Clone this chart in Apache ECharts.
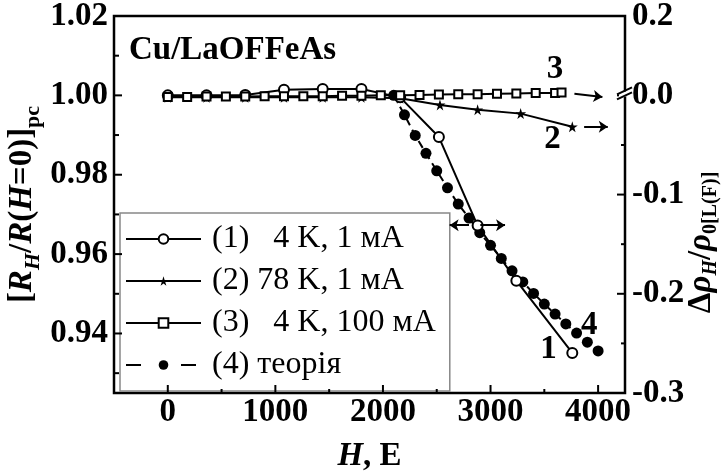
<!DOCTYPE html>
<html><head><meta charset="utf-8">
<script src="https://cdn.jsdelivr.net/npm/echarts@6/dist/echarts.min.js"></script>
<style>html,body{margin:0;padding:0;background:#fff}#c{width:725px;height:474px}</style>
</head><body><div id="c"></div>
<script>
// ---- data ----
const seriesNames = ['(1)   4 K, 1 мА', '(2) 78 K, 1 мА', '(3)   4 K, 100 мА', '(4) теорія'];
const h1 = [0, 360, 720, 1080, 1440, 1800, 2160, 2520, 2880, 3240, 3760];
const r1 = [1.0000, 1.0000, 1.0001, 1.0014, 1.0016, 1.0016, 0.9995, 0.9895, 0.9672, 0.9533, 0.9351];
const h2 = [0, 360, 720, 1080, 1440, 1800, 2160, 2530, 2880, 3280, 3760];
const r2 = [0.9995, 0.9995, 0.9995, 0.9995, 0.9995, 0.9995, 0.9993, 0.9976, 0.9964, 0.9954, 0.9921];
const h3 = [0, 180, 360, 540, 720, 900, 1080, 1260, 1440, 1620, 1800, 1980, 2160, 2340, 2520, 2700, 2880, 3060, 3240, 3420, 3600, 3660];
const r3 = [0.9996, 0.9996, 0.9997, 0.9997, 0.9997, 0.9998, 0.9998, 0.9998, 0.9998, 0.9999, 0.9999, 1.0000, 1.0000, 1.0001, 1.0002, 1.0003, 1.0003, 1.0004, 1.0005, 1.0006, 1.0006, 1.0007];
const h4 = [2100, 2200, 2300, 2400, 2500, 2600, 2700, 2800, 2900, 3000, 3100, 3200, 3300, 3400, 3500, 3600, 3700, 3800, 3900, 4000];
const r4 = [1.0000, 0.9951, 0.9899, 0.9854, 0.9810, 0.9767, 0.9726, 0.9691, 0.9654, 0.9622, 0.9589, 0.9558, 0.9530, 0.9501, 0.9474, 0.9449, 0.9424, 0.9401, 0.9378, 0.9356];

const xRange = [-500, 4250];
const xTickLabels = [0, 1000, 2000, 3000, 4000];
const xMinorTicks = [500, 1500, 2500, 3500];
const leftRange = [0.925, 1.02];
const leftTickLabels = [0.94, 0.96, 0.98, 1.00, 1.02];
const leftMinorTicks = [0.93, 0.95, 0.97, 0.99, 1.01];
const rightMin = -0.3;
const rightTickLabels = [-0.3, -0.2, -0.1, 0.0];
const rightBreakLabel = '0.2';
const rightMinorTicks = [-0.25, -0.15, -0.05];
// curve labels and arrows (data coordinates)
const curveLabels = [
  {s: 0, text: '1', at: [3540, 0.9359]},
  {s: 1, text: '2', at: [3575, 0.9889]},
  {s: 2, text: '3', at: [3600, 1.0066]},
  {s: 3, text: '4', at: [3918, 0.9419]}
];
const arrows = [
  {s: 2, from: [3780, 1.0004], to: [4040, 0.9996]},
  {s: 1, from: [3870, 0.9921], to: [4090, 0.9921]},
  {s: 0, from: [2800, 0.9673], to: [2620, 0.9673]},
  {s: 0, from: [2905, 0.9673], to: [3135, 0.9673]}
];

// right axis is broken above 0.0 : 0.0 aligned with 1.00 of the left axis
const rightMax = 0 + (leftRange[1] - 1.00) / (1.00 - leftRange[0]) * (0 - rightMin);

const FF = '"Liberation Serif", "Times New Roman", serif';
const zip = (a, b) => a.map((v, i) => [v, b[i]]);
const star = 'path://M50,0 L61,35 L98,35 L68,57 L79,91 L50,70 L21,91 L32,57 L2,35 L39,35 Z';

function marks(i) {
  const lab = curveLabels.filter(c => c.s === i).map(c => ({
    coord: c.at.slice(), value: c.text, symbol: 'rect', symbolSize: 1,
    itemStyle: {color: 'rgba(0,0,0,0)'},
    label: {show: true, position: 'inside', formatter: c.text, color: '#000',
      fontFamily: FF, fontWeight: 'bold', fontSize: 33}
  }));
  const arr = arrows.filter(a => a.s === i).map(a => [{coord: a.from.slice()}, {coord: a.to.slice()}]);
  return {
    markPoint: {silent: true, data: lab},
    markLine: {silent: true, symbol: ['none', 'arrow'], symbolSize: 9,
      lineStyle: {color: '#000', width: 2, type: 'solid'}, label: {show: false}, data: arr}
  };
}

const bold = {fontFamily: FF, fontWeight: 'bold', fontSize: 33, color: '#000'};
const noLine = {show: false, onZero: false};

const chart = echarts.init(document.getElementById('c'), null, {renderer: 'canvas'});
const option = {
  animation: false,
  backgroundColor: '#fff',
  grid: {left: 114, right: 100, top: 16, bottom: 81, show: true, borderColor: '#000', borderWidth: 2.5,
    containLabel: false, outerBoundsMode: 'none'},
  title: {text: 'Cu/LaOFFeAs', left: 124, top: 29, textStyle: {fontFamily: FF, fontWeight: 'bold', fontSize: 33, color: '#000'}},
  legend: {
    orient: 'vertical', left: 120, top: 213,
    data: seriesNames.map((n, i) => i === 3 ? {name: n, lineStyle: {type: [15, 40]}} : {name: n}),
    itemWidth: 75, itemHeight: 12, itemGap: 10,
    padding: [10, 14, 10, 5],
    backgroundColor: '#fff', borderColor: '#888', borderWidth: 1.5, borderRadius: 0,
    textStyle: {fontFamily: FF, fontSize: 32, color: '#000', lineHeight: 30, padding: [0, 0, 0, 6]}
  },
  xAxis: [{
    type: 'value', min: xRange[0], max: xRange[1], position: 'bottom',
    axisLine: noLine, splitLine: {show: false}, axisTick: {show: false},
    axisLabel: Object.assign({customValues: xTickLabels.slice(), margin: 3, formatter: v => String(v)}, bold),
    name: '{bi|H}{b|, E}', nameLocation: 'middle', nameGap: 47, nameMoveOverlap: false,
    nameTextStyle: {rich: {b: Object.assign({}, bold), bi: Object.assign({fontStyle: 'italic'}, bold)}}
  }],
  yAxis: [{
    type: 'value', min: leftRange[0], max: leftRange[1], position: 'left',
    axisLine: noLine, splitLine: {show: false}, axisTick: {show: false},
    axisLabel: Object.assign({customValues: leftTickLabels.slice(), margin: 6, formatter: v => Number(v).toFixed(2)}, bold),
    name: '{b|[}{bi|R}{bis|H}{b|/}{bi|R}{b|(}{bi|H}{b|=0)]}{bs|pc}',
    nameLocation: 'middle', nameRotate: 90, nameGap: 70, nameMoveOverlap: false,
    nameTextStyle: {rich: {
      b: Object.assign({lineHeight: 44}, bold),
      bi: Object.assign({fontStyle: 'italic', lineHeight: 44}, bold),
      bis: Object.assign({}, bold, {fontStyle: 'italic', fontSize: 22, lineHeight: 20, verticalAlign: 'bottom'}),
      bs: Object.assign({}, bold, {fontSize: 22, lineHeight: 20, verticalAlign: 'bottom'})
    }}
  }, {
    type: 'value', min: rightMin, max: rightMax, position: 'right',
    axisLine: noLine, splitLine: {show: false}, axisTick: {show: false},
    axisLabel: Object.assign({customValues: rightTickLabels.concat([rightMax]), margin: 7,
      formatter: v => Math.abs(v - rightMax) < 1e-9 ? rightBreakLabel : Number(v).toFixed(1)}, bold),
    name: '{b|Δ}{bi|ρ}{bis|H}{b|/}{bi|ρ}{bs|0[L(F)]}',
    nameLocation: 'middle', nameRotate: 90, nameGap: 56, nameMoveOverlap: false,
    nameTextStyle: {padding: [0, 76, 0, 0], rich: {
      b: Object.assign({lineHeight: 40}, bold),
      bi: Object.assign({fontStyle: 'italic', lineHeight: 40}, bold),
      bis: Object.assign({}, bold, {fontStyle: 'italic', fontSize: 20, lineHeight: 18, verticalAlign: 'bottom'}),
      bs: Object.assign({}, bold, {fontSize: 20, lineHeight: 18, verticalAlign: 'bottom'})
    }}
  }],
  series: [
    Object.assign({name: seriesNames[3], type: 'line', data: zip(h4, r4), z: 2,
      symbol: 'circle', symbolSize: 11, itemStyle: {color: '#000'},
      lineStyle: {color: '#000', width: 2, type: [8, 5]}}, marks(3)),
    Object.assign({name: seriesNames[1], type: 'line', data: zip(h2, r2), z: 3,
      symbol: star, symbolSize: 11, itemStyle: {color: '#000'},
      lineStyle: {color: '#000', width: 2}}, marks(1)),
    Object.assign({name: seriesNames[0], type: 'line', data: zip(h1, r1), z: 4,
      symbol: 'emptyCircle', symbolSize: 10, itemStyle: {color: '#000', borderWidth: 1.5},
      lineStyle: {color: '#000', width: 2}}, marks(0)),
    Object.assign({name: seriesNames[2], type: 'line', data: zip(h3, r3), z: 5,
      symbol: 'emptyRect', symbolSize: 8, itemStyle: {color: '#000', borderWidth: 1.5},
      lineStyle: {color: '#000', width: 2}}, marks(2))
  ]
};
chart.setOption(option);

// inward axis ticks, placed through the axes' scales
const px = v => chart.convertToPixel({xAxisIndex: 0}, Number(v));
const pyL = v => chart.convertToPixel({yAxisIndex: 0}, Number(v));
const pyR = v => chart.convertToPixel({yAxisIndex: 1}, Number(v));
const xL = px(xRange[0]), xR = px(xRange[1]), yB = pyL(leftRange[0]);
const seg = (x1, y1, x2, y2) => ({type: 'line', z: 50, silent: true,
  shape: {x1: x1, y1: y1, x2: x2, y2: y2}, style: {stroke: '#000', lineWidth: 2}});
const g = [];
leftTickLabels.forEach(v => g.push(seg(xL, pyL(v), xL + 8, pyL(v))));
leftMinorTicks.forEach(v => g.push(seg(xL, pyL(v), xL + 5, pyL(v))));
rightTickLabels.forEach(v => g.push(seg(xR, pyR(v), xR - 8, pyR(v))));
rightMinorTicks.forEach(v => g.push(seg(xR, pyR(v), xR - 4, pyR(v))));
xTickLabels.forEach(v => g.push(seg(px(v), yB, px(v), yB - 8)));
xMinorTicks.forEach(v => g.push(seg(px(v), yB, px(v), yB - 4)));
// axis-break mark on the right axis at 0.0
const by = pyR(0);
g.push({type: 'polygon', z: 100, shape: {points: [[xR - 6, by - 1], [xR + 6, by - 6], [xR + 6, by - 1], [xR - 6, by + 4]]}, style: {fill: '#fff'}});
g.push(Object.assign(seg(xR - 8, by - 1, xR + 7, by - 8), {z: 101}));
g.push(Object.assign(seg(xR - 8, by + 4, xR + 7, by - 3), {z: 101}));
chart.setOption({graphic: g});
</script></body></html>
